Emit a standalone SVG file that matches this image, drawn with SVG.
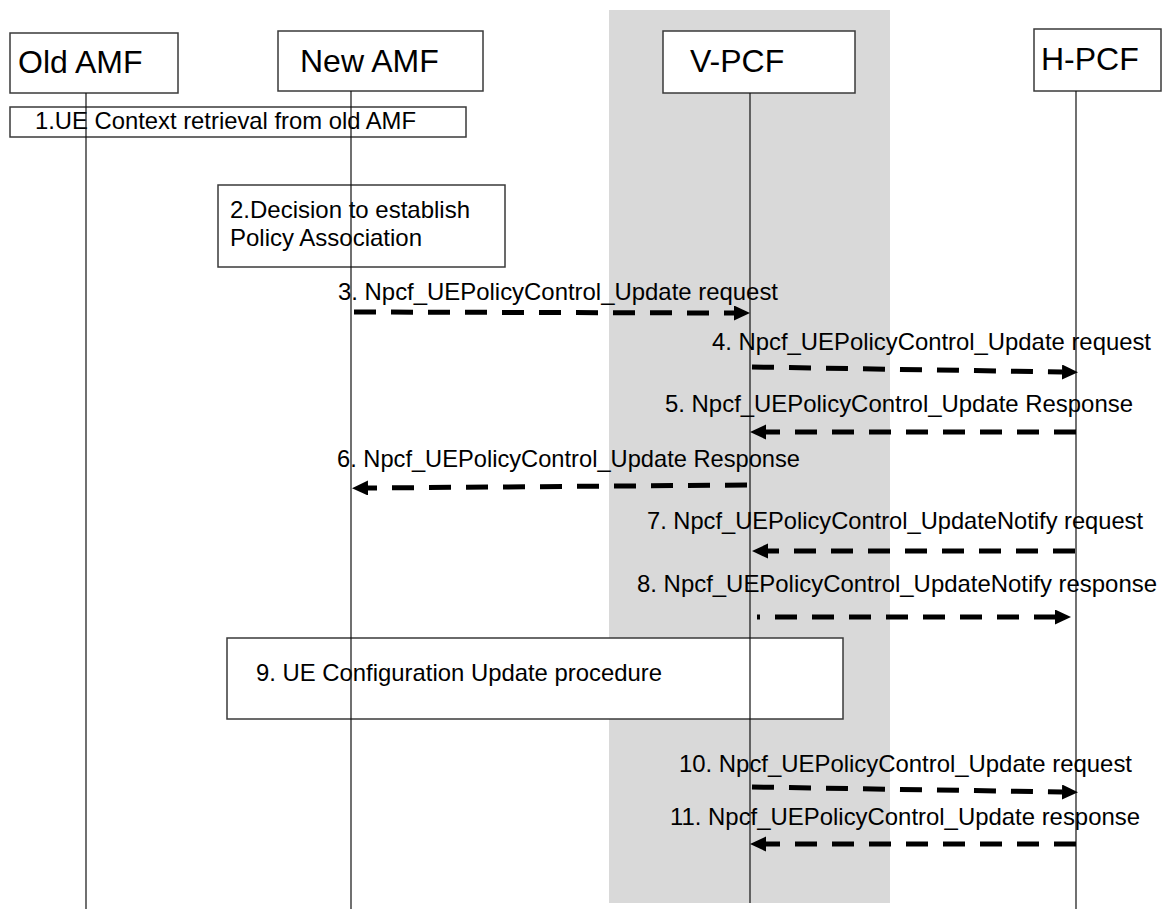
<svg xmlns="http://www.w3.org/2000/svg" width="1163" height="909" viewBox="0 0 1163 909">
<defs>
<style>
.box{fill:#fff;stroke:#3a3a3a;stroke-width:1.5}
.life{stroke:#111;stroke-width:1.2;fill:none}
.title{font-family:"Liberation Sans",Arial,sans-serif;font-size:32px;fill:#000}
.lbl{font-family:"Liberation Sans",Arial,sans-serif;font-size:24px;fill:#000}
.msg{stroke:#000;stroke-width:5;fill:none;stroke-dasharray:22 15}
</style>
<marker id="ah" markerUnits="userSpaceOnUse" markerWidth="17" markerHeight="16" refX="0" refY="7.5" orient="auto">
<path d="M0,0 L16,7.5 L0,15 Z" fill="#000"/>
</marker>
</defs>
<rect id="band" x="609" y="10" width="281" height="893" fill="#d9d9d9"/>
<g id="step1">
<rect class="box" x="10" y="107" width="456" height="30"/>
<text class="lbl" x="35" y="129" textLength="381" lengthAdjust="spacingAndGlyphs">1.UE Context retrieval from old AMF</text>
</g>
<g id="step2">
<rect class="box" x="218" y="185" width="287" height="82"/>
<text class="lbl" x="230" y="218" textLength="240" lengthAdjust="spacingAndGlyphs">2.Decision to establish</text>
<text class="lbl" x="230" y="246" textLength="192" lengthAdjust="spacingAndGlyphs">Policy Association</text>
</g>
<g id="step9">
<rect class="box" x="227" y="638" width="616" height="81"/>
<text class="lbl" x="256" y="681" textLength="406" lengthAdjust="spacingAndGlyphs">9. UE Configuration Update procedure</text>
</g>
<g id="old-amf">
<rect class="box" x="10" y="33" width="168" height="60"/>
<text class="title" x="18" y="73">Old AMF</text>
<line class="life" x1="86" y1="93" x2="86" y2="909"/>
</g>
<g id="new-amf">
<rect class="box" x="278" y="31" width="205" height="60"/>
<text class="title" x="300" y="72">New AMF</text>
<line class="life" x1="351" y1="91" x2="351" y2="909"/>
</g>
<g id="v-pcf">
<rect class="box" x="663" y="31" width="192" height="62"/>
<text class="title" x="690" y="72">V-PCF</text>
<line class="life" x1="750" y1="93" x2="750" y2="903"/>
</g>
<g id="h-pcf">
<rect class="box" x="1034" y="29" width="127" height="62"/>
<text class="title" x="1041" y="70">H-PCF</text>
<line class="life" x1="1076" y1="91" x2="1076" y2="909"/>
</g>
<g id="connectors">
<line class="msg" x1="354" y1="312" x2="734" y2="313" marker-end="url(#ah)"/>
<line class="msg" x1="752" y1="367" x2="1062" y2="372" marker-end="url(#ah)"/>
<line class="msg" x1="1076" y1="432" x2="766" y2="432" marker-end="url(#ah)"/>
<line class="msg" x1="747" y1="485" x2="368" y2="488" marker-end="url(#ah)"/>
<line class="msg" x1="1075" y1="551" x2="768" y2="551" marker-end="url(#ah)"/>
<line class="msg" x1="757" y1="617" x2="1055" y2="617" stroke-dashoffset="19" marker-end="url(#ah)"/>
<line class="msg" x1="752" y1="787" x2="1062" y2="792" marker-end="url(#ah)"/>
<line class="msg" x1="1076" y1="844" x2="766" y2="844" marker-end="url(#ah)"/>
<text class="lbl" x="338" y="300" textLength="440" lengthAdjust="spacingAndGlyphs">3. Npcf_UEPolicyControl_Update request</text>
<text class="lbl" x="712" y="350" textLength="439" lengthAdjust="spacingAndGlyphs">4. Npcf_UEPolicyControl_Update request</text>
<text class="lbl" x="665" y="412" textLength="468" lengthAdjust="spacingAndGlyphs">5. Npcf_UEPolicyControl_Update Response</text>
<text class="lbl" x="337" y="467" textLength="463" lengthAdjust="spacingAndGlyphs">6. Npcf_UEPolicyControl_Update Response</text>
<text class="lbl" x="647" y="529" textLength="496" lengthAdjust="spacingAndGlyphs">7. Npcf_UEPolicyControl_UpdateNotify request</text>
<text class="lbl" x="637" y="592" textLength="520" lengthAdjust="spacingAndGlyphs">8. Npcf_UEPolicyControl_UpdateNotify response</text>
<text class="lbl" x="679" y="772" textLength="453" lengthAdjust="spacingAndGlyphs">10. Npcf_UEPolicyControl_Update request</text>
<text class="lbl" x="670" y="825" textLength="470" lengthAdjust="spacingAndGlyphs">11. Npcf_UEPolicyControl_Update response</text>
</g>
</svg>
